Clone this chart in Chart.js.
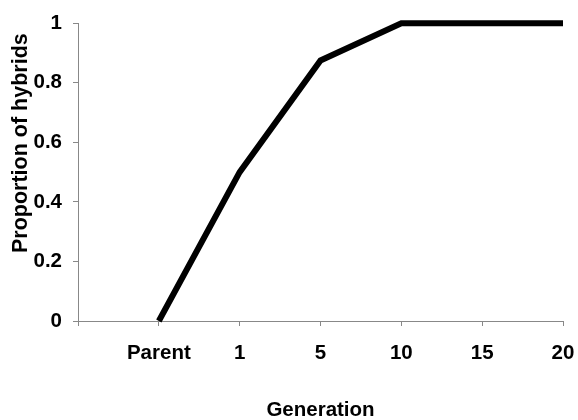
<!DOCTYPE html>
<html>
<head>
<meta charset="utf-8">
<script src="https://cdn.jsdelivr.net/npm/chart.js@4"></script>
<style>
  html, body { margin: 0; padding: 0; background: #fff; }
  #wrap { width: 578px; height: 420px; }
</style>
</head>
<body>
<div id="wrap"><canvas id="hybridChart"></canvas></div>
<script>
// Generations along the x axis (first slot is the empty axis start)
const generations = ["", "Parent", "1", "5", "10", "15", "20"];
// Proportion of hybrids at each generation
const proportions = [null, 0, 0.5, 0.875, 1, 1, 1];
const yTicks = [0, 0.2, 0.4, 0.6, 0.8, 1];
const yTitle = "Proportion of hybrids";

const font = { family: "Liberation Sans, Arial, sans-serif", size: 20.5, weight: "bold" };

// y title sits a bit above the middle of the axis in the original, so draw it by hand
const yTitlePlugin = {
    id: "yTitle",
    afterDraw(chart) {
        const c = chart.ctx;
        const area = chart.chartArea;
        c.save();
        c.font = "bold 21.5px Liberation Sans, Arial, sans-serif";
        c.fillStyle = "#000";
        c.textAlign = "center";
        c.textBaseline = "middle";
        c.translate(21, (area.top + area.bottom) / 2 - 29);
        c.rotate(-Math.PI / 2);
        c.fillText(yTitle, 0, 0);
        c.restore();
    }
};

document.addEventListener("DOMContentLoaded", () => {
    const ctx = document.getElementById("hybridChart");
    new Chart(ctx, {
        type: "line",
        data: {
            labels: generations,
            datasets: [{
                label: yTitle,
                data: proportions,
                borderColor: "#000",
                borderWidth: 6,
                pointRadius: 0,
                tension: 0,
                fill: false,
                clip: false
            }]
        },
        options: {
            responsive: true,
            maintainAspectRatio: false,
            animation: false,
            layout: { padding: { top: 11, right: 15, bottom: 0, left: 0 } },
            plugins: {
                legend: { display: false },
                tooltip: { enabled: false }
            },
            scales: {
                x: {
                    type: "category",
                    offset: false,
                    grid: { drawOnChartArea: false, drawTicks: true, tickLength: 5, color: "#888" },
                    border: { display: true, color: "#888", width: 1 },
                    ticks: { color: "#000", font: font, padding: 15, maxRotation: 0, autoSkip: false },
                    title: { display: true, text: "Generation", color: "#000", font: font, padding: { top: 0, bottom: -3 } },
                    afterFit: (scale) => {
                        scale.height = 99;
                        scale.paddingRight = 0;
                        scale.paddingLeft = 0;
                    }
                },
                y: {
                    min: 0,
                    max: 1,
                    afterBuildTicks: (scale) => { scale.ticks = yTicks.map(v => ({ value: v })); },
                    grid: { drawOnChartArea: false, drawTicks: true, tickLength: 5, color: "#888" },
                    border: { display: true, color: "#888", width: 1 },
                    ticks: { color: "#000", font: font, padding: 11, callback: (v) => String(v) },
                    afterFit: (scale) => { scale.width = 78; }
                }
            }
        },
        plugins: [yTitlePlugin]
    });
});
</script>
</body>
</html>
